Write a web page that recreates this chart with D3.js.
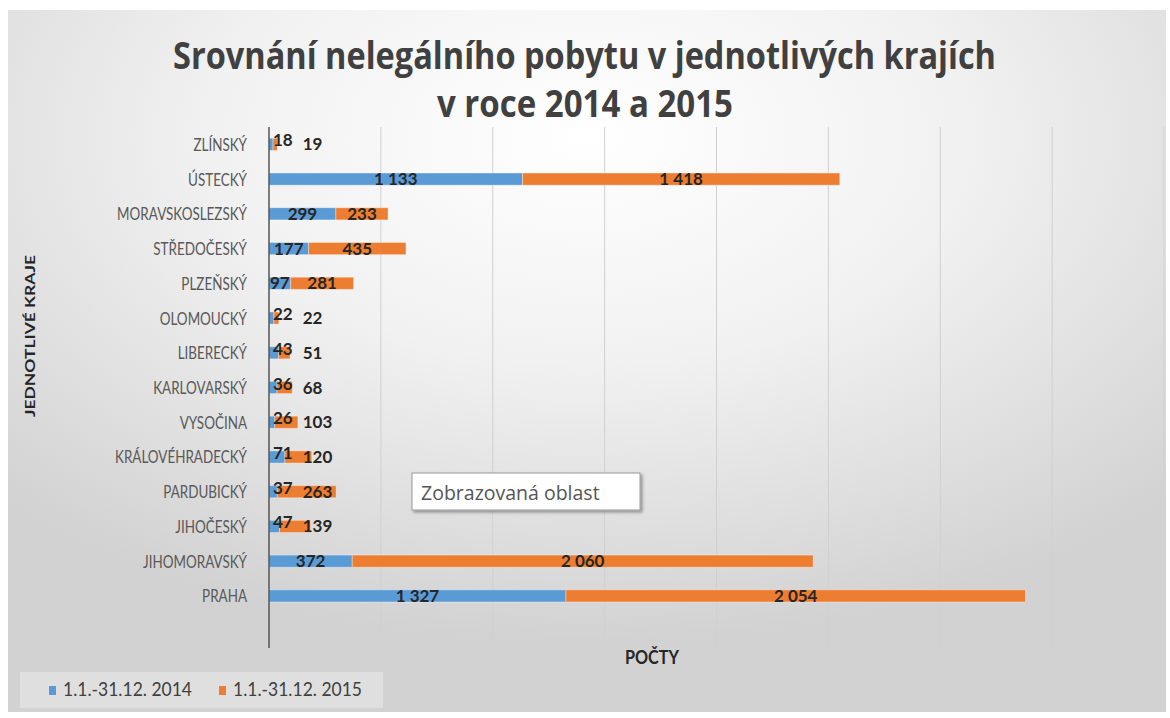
<!DOCTYPE html>
<html>
<head>
<meta charset="utf-8">
<script src="https://cdn.jsdelivr.net/npm/d3@7"></script>
<style>
  body { margin: 0; background: #fff; }
  svg { display: block; }
</style>
</head>
<body>
<div id="content"></div>
<script>
// data
const categories = ['ZLÍNSKÝ', 'ÚSTECKÝ', 'MORAVSKOSLEZSKÝ', 'STŘEDOČESKÝ', 'PLZEŇSKÝ',
  'OLOMOUCKÝ', 'LIBERECKÝ', 'KARLOVARSKÝ', 'VYSOČINA', 'KRÁLOVÉHRADECKÝ',
  'PARDUBICKÝ', 'JIHOČESKÝ', 'JIHOMORAVSKÝ', 'PRAHA'];
const values2014 = [18, 1133, 299, 177, 97, 22, 43, 36, 26, 71, 37, 47, 372, 1327];
const values2015 = [19, 1418, 233, 435, 281, 22, 51, 68, 103, 120, 263, 139, 2060, 2054];
const seriesNames = ['1.1.-31.12. 2014', '1.1.-31.12. 2015'];
const gridTicks = [500, 1000, 1500, 2000, 2500, 3000, 3500, 4000];

const W = 1170, H = 718;
const colors = ['#5B9BD5', '#ED7D31'];
const plot = { left: 269, right: 1164, top: 127, bottom: 648 };
const fmt = d3.formatLocale({ decimal: ',', thousands: ' ', grouping: [3], currency: ['', ''] }).format(',d');

const svg = d3.select('#content').append('svg').attr('width', W).attr('height', H);

// squeeze text horizontally (the original font is a narrow one)
const squeeze = (sel, ratio) => sel.each(function() {
  const w = this.getComputedTextLength();
  d3.select(this).attr('textLength', w * ratio).attr('lengthAdjust', 'spacingAndGlyphs');
});

const defs = svg.append('defs');
const grad = defs.append('radialGradient').attr('id', 'bg')
  .attr('cx', 0.5).attr('cy', 0.18).attr('r', 0.72);
grad.append('stop').attr('offset', 0).attr('stop-color', '#ffffff');
grad.append('stop').attr('offset', 0.45).attr('stop-color', '#f1f1f1');
grad.append('stop').attr('offset', 1).attr('stop-color', '#d2d2d2');
const shadow = defs.append('filter').attr('id', 'shadow')
  .attr('x', -0.1).attr('y', -0.2).attr('width', 1.3).attr('height', 1.6);
shadow.append('feDropShadow').attr('dx', 2).attr('dy', 2).attr('stdDeviation', 1.5)
  .attr('flood-color', '#000').attr('flood-opacity', 0.35);

svg.append('rect').attr('x', 8).attr('y', 10).attr('width', 1158).attr('height', 702)
  .attr('fill', 'url(#bg)');

// title
const title = svg.append('g').attr('font-family', 'Open Sans, sans-serif')
  .attr('font-weight', 700).attr('fill', '#404040').attr('font-size', 38);
title.append('text').attr('x', 173).attr('y', 69)
  .attr('textLength', 823).attr('lengthAdjust', 'spacingAndGlyphs')
  .text('Srovnání nelegálního pobytu v jednotlivých krajích');
title.append('text').attr('x', 437).attr('y', 117)
  .attr('textLength', 296).attr('lengthAdjust', 'spacingAndGlyphs')
  .text('v roce 2014 a 2015');

// scales
const x = d3.scaleLinear().domain([0, 4000]).range([plot.left, plot.right]);
const bandStep = (plot.bottom - plot.top) / (categories.length + 1);
const y = d3.scaleBand().domain(categories)
  .range([plot.top, plot.top + bandStep * categories.length]).paddingInner(0.65).paddingOuter(0.325);

// grid
svg.append('g').selectAll('line').data(gridTicks).join('line')
  .attr('x1', d => x(d)).attr('x2', d => x(d))
  .attr('y1', plot.top).attr('y2', plot.bottom)
  .attr('stroke', '#d0d0d0').attr('stroke-width', 1);

// stacked bars
const rows = categories.map((c, i) => ({ cat: c, a: values2014[i], b: values2015[i] }));
const stack = d3.stack().keys(['a', 'b'])(rows);
const barG = svg.append('g');
stack.forEach((layer, k) => {
  barG.append('g').attr('fill', colors[k]).selectAll('rect').data(layer).join('rect')
    .attr('x', d => x(d[0])).attr('width', d => x(d[1]) - x(d[0]))
    .attr('y', d => y(d.data.cat)).attr('height', y.bandwidth())
    .attr('stroke', '#fff').attr('stroke-opacity', 0.35).attr('stroke-width', 1);
});

// vertical axis line + category labels
svg.append('line').attr('x1', plot.left).attr('x2', plot.left)
  .attr('y1', plot.top).attr('y2', plot.bottom).attr('stroke', '#555').attr('stroke-width', 1.5);
const labelPad = 22;
const yAxis = d3.axisLeft(y).tickSize(0).tickPadding(labelPad);
const yg = svg.append('g').attr('transform', `translate(${plot.left},0)`).call(yAxis);
yg.select('.domain').remove();
const catText = yg.selectAll('text').attr('font-family', 'Lato, sans-serif').attr('font-size', 18)
  .attr('fill', '#595959').attr('dy', '0.36em');
const longest = catText.filter(d => d === 'MORAVSKOSLEZSKÝ').node().getComputedTextLength();
const catRatio = 130 / longest;
catText.attr('x', -labelPad / catRatio).attr('transform', `scale(${catRatio},1)`);

// data labels: centred in the segment, or pushed aside when the segment is too thin
const labG = svg.append('g').attr('font-family', 'Lato, sans-serif').attr('font-weight', 700)
  .attr('font-size', 17).attr('fill', '#262626');
rows.forEach(r => {
  const cy = y(r.cat) + y.bandwidth() / 2 + 6;
  let prevEnd = plot.left;
  [[0, r.a], [r.a, r.a + r.b]].forEach(([v0, v1], k) => {
    const t = labG.append('text').attr('y', cy).text(fmt(v1 - v0));
    const w = t.node().getComputedTextLength();
    const x0 = x(v0), x1 = x(v1);
    const fits = w <= x1 - x0 + 2;
    let start;
    if (fits) start = Math.max(x0 + 1, (x0 + x1) / 2 - w / 2);
    else start = k === 0 ? x0 + 4 : x0 + 2;
    if (k === 1) start = Math.max(start, prevEnd + 10);
    if (k === 0 && !fits) t.attr('y', cy - 4);
    t.attr('x', start);
    prevEnd = start + w;
  });
});

// axis titles
svg.append('text').attr('x', 652).attr('y', 664).attr('text-anchor', 'middle')
  .attr('font-family', 'Lato, sans-serif').attr('font-weight', 700).attr('font-size', 18)
  .attr('fill', '#262626').text('POČTY')
  .call(s => squeeze(s, 54 / s.node().getComputedTextLength()));
svg.append('text').attr('transform', 'translate(35,336) rotate(-90)').attr('text-anchor', 'middle')
  .attr('font-family', 'Lato, sans-serif').attr('font-weight', 700).attr('font-size', 14)
  .attr('fill', '#262626').text('JEDNOTLIVÉ KRAJE')
  .call(s => squeeze(s, 162 / s.node().getComputedTextLength()));

// legend
const leg = svg.append('g');
leg.append('rect').attr('x', 20).attr('y', 672).attr('width', 363).attr('height', 36)
  .attr('fill', '#fff').attr('fill-opacity', 0.3);
const legX = [49, 219];
seriesNames.forEach((n, i) => {
  leg.append('rect').attr('x', legX[i]).attr('y', 686).attr('width', 7).attr('height', 9)
    .attr('fill', colors[i]);
  leg.append('text').attr('x', legX[i] + 14).attr('y', 696)
    .attr('font-family', 'Lato, sans-serif').attr('font-size', 19).attr('fill', '#404040').text(n)
    .call(s => squeeze(s, 129 / s.node().getComputedTextLength()));
});

// "Zobrazovaná oblast" tooltip box
const tip = svg.append('g');
tip.append('rect').attr('x', 412).attr('y', 473).attr('width', 228).attr('height', 37)
  .attr('fill', '#fff').attr('stroke', '#999').attr('filter', 'url(#shadow)');
tip.append('text').attr('x', 421).attr('y', 500)
  .attr('font-family', 'Open Sans, sans-serif').attr('font-size', 19.5).attr('fill', '#555')
  .text('Zobrazovaná oblast');
</script>
</body>
</html>
